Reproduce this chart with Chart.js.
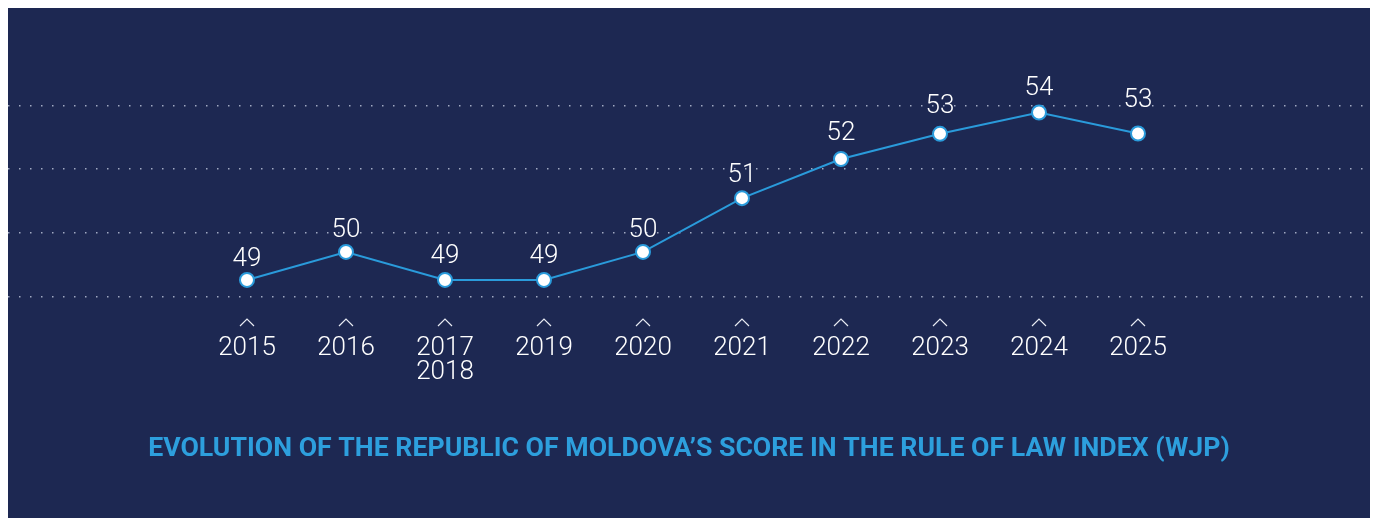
<!DOCTYPE html>
<html>
<head>
<meta charset="utf-8">
<script src="https://cdn.jsdelivr.net/npm/chart.js@4/dist/chart.umd.min.js"></script>
<style>
  html, body { margin: 0; padding: 0; background: #ffffff; }
  #wrap { position: absolute; left: 8px; top: 8px; width: 1362px; height: 510px; background: #1d2852; }
  canvas { display: block; }
</style>
</head>
<body>
<div id="wrap"><canvas id="c" width="1362" height="510"></canvas></div>
<script>
// Categories (x axis tick labels)
const years = ['2015', '2016', ['2017', '2018'], '2019', '2020', '2021', '2022', '2023', '2024', '2025'];
// Plotted score positions (in the chart's vertical units)
const scores = [48.52, 49.40, 48.52, 48.52, 49.40, 51.09, 52.32, 53.11, 53.78, 53.12];
// Score labels shown above the points
const scoreLabels = ['49', '50', '49', '49', '50', '51', '52', '53', '54', '53'];
// Horizontal dotted guide lines
const gridValues = [48, 50, 52, 54];
const title = 'EVOLUTION OF THE REPUBLIC OF MOLDOVA\u2019S SCORE IN THE RULE OF LAW INDEX (WJP)';

const lineBlue = '#2a9bdb';
const titleBlue = '#2d9fdd';

const pointLabels = {
  id: 'pointLabels',
  afterDatasetsDraw(chart, args, opts) {
    const ctx = chart.ctx;
    const meta = chart.getDatasetMeta(0);
    const lift = opts.lift || [];
    ctx.save();
    ctx.font = '300 26px Roboto';
    ctx.fillStyle = '#ffffff';
    ctx.textAlign = 'center';
    ctx.textBaseline = 'alphabetic';
    meta.data.forEach((pt, i) => {
      ctx.fillText(scoreLabels[i], pt.x, pt.y - 16 - (lift[i] || 0));
    });
    ctx.restore();
  }
};

const carets = {
  id: 'carets',
  afterDraw(chart) {
    const ctx = chart.ctx;
    const xs = chart.scales.x;
    const top = xs.top + 3;
    ctx.save();
    ctx.strokeStyle = '#e8ebf3';
    ctx.lineWidth = 1.2;
    xs.ticks.forEach(t => {
      const x = xs.getPixelForValue(t.value);
      ctx.beginPath();
      ctx.moveTo(x - 7, top + 7);
      ctx.lineTo(x, top);
      ctx.lineTo(x + 7, top + 7);
      ctx.stroke();
    });
    ctx.restore();
  }
};

new Chart(document.getElementById('c'), {
  type: 'line',
  data: {
    datasets: [{
      data: scores.map((v, i) => ({ x: i, y: v })),
      borderColor: lineBlue,
      borderWidth: 2,
      pointRadius: 7,
      pointBorderWidth: 2,
      pointBackgroundColor: '#ffffff',
      pointBorderColor: lineBlue,
      tension: 0,
      clip: false
    }]
  },
  options: {
    responsive: false,
    animation: false,
    events: [],
    layout: { padding: 0, autoPadding: false },
    plugins: {
      legend: { display: false },
      tooltip: { enabled: false },
      pointLabels: { lift: [-2, -1, 1, 1, -1, 0, 3, 5, 2, 11] },
      title: {
        display: true,
        position: 'bottom',
        text: title,
        color: titleBlue,
        font: { family: 'Roboto', size: 26.7, weight: 'bold', lineHeight: '31.2px' },
        padding: { top: 29.8, bottom: 53 }
      }
    },
    scales: {
      x: {
        type: 'linear',
        min: -2.4141,
        max: 11.3434,
        afterBuildTicks(scale) { scale.ticks = years.map((y, i) => ({ value: i })); },
        grid: { display: false, drawTicks: false },
        border: { display: false },
        ticks: {
          padding: 20,
          color: '#ffffff',
          font: { family: 'Roboto', size: 26, weight: '300', lineHeight: '24px' },
          maxRotation: 0,
          autoSkip: false,
          callback: (v) => years[v]
        }
      },
      y: {
        type: 'linear',
        min: 47.387,
        max: 57.063,
        afterBuildTicks(scale) { scale.ticks = gridValues.map(v => ({ value: v })); },
        grid: { color: 'rgba(205,212,232,0.75)', lineWidth: 1.5, drawTicks: false },
        border: { display: false, dash: [1.5, 9.5] },
        ticks: { display: false }
      }
    }
  },
  plugins: [pointLabels, carets]
});
</script>
</body>
</html>
